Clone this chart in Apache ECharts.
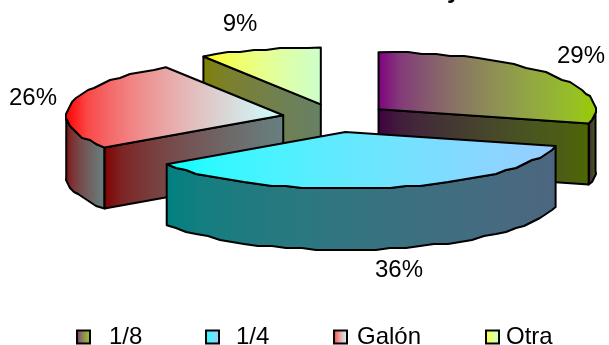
<!DOCTYPE html>
<html>
<head>
<meta charset="utf-8">
<style>
  html, body { margin: 0; padding: 0; background: #fff; }
  #chart { width: 609px; height: 345px; }
</style>
<script src="https://cdn.jsdelivr.net/npm/echarts@6/dist/echarts.min.js"></script>
</head>
<body>
<div id="chart"></div>
<script>
var categories = ['1/8', '1/4', 'Galón', 'Otra'];
var shares = [29, 36.4, 25.5, 9.1];
var topStart = ['#800080', '#00ffff', '#ff0000', '#ffff00'];
var topEnd = ['#99cc00', '#99ccff', '#ccffff', '#ccffcc'];
var wallStart = ['#400040', '#008080', '#800000', '#808000'];
var wallEnd = ['#4d6600', '#4d6680', '#668080', '#668066'];
var labelPos = [[581, 56], [399, 270], [33, 98], [240, 24]];
var legendLeft = [76, 205, 333, 485];
var legendPad = [14, 12, 5, 2];

var font = 'Liberation Sans, Arial, sans-serif';
var cx = 336, cy = 118, rx = 217, ry = 57, depth = 61, explode = 0.248;
var gamma = 1.8;
var RAD = Math.PI / 180;

function channels(hex) {
  return [1, 3, 5].map(function (p) { return parseInt(hex.substr(p, 2), 16) / 255; });
}

// the reference blends closer to linear light, plain two-stop gradients come out too dark in the middle
function grad(a, b) {
  var ca = channels(a), cb = channels(b), stops = [];
  for (var k = 0; k <= 10; k++) {
    var t = k / 10;
    var rgb = ca.map(function (v, j) {
      var mix = Math.pow(v, gamma) * (1 - t) + Math.pow(cb[j], gamma) * t;
      return Math.round(Math.pow(mix, 1 / gamma) * 255);
    });
    stops.push({ offset: t, color: 'rgb(' + rgb.join(',') + ')' });
  }
  return { type: 'linear', x: 0, y: 0, x2: 1, y2: 0, colorStops: stops };
}

// slice angles, clockwise from north
var total = shares.reduce(function (x, y) { return x + y; }, 0);
var run = 0;
var angles = shares.map(function (v) {
  var a = run / total * 360;
  run += v;
  return [a, run / total * 360];
});

function apexOf(i) {
  var mid = (angles[i][0] + angles[i][1]) / 2 * RAD;
  return [cx + explode * rx * Math.sin(mid), cy - explode * ry * Math.cos(mid)];
}

function rimPoint(apex, deg, dz) {
  return [apex[0] + rx * Math.sin(deg * RAD), apex[1] - ry * Math.cos(deg * RAD) + dz];
}

// the original rim is a coarse polyline, so snap the inner points to a rough grid
function arcPoints(apex, a, b, dz) {
  var pts = [];
  var n = Math.max(2, Math.ceil(Math.abs(b - a) / 4));
  for (var k = 0; k <= n; k++) {
    var p = rimPoint(apex, a + (b - a) * k / n, dz);
    if (k > 0 && k < n) {
      p = [Math.round(p[0] / 2) * 2, Math.round(p[1] / 2) * 2];
    }
    pts.push(p);
  }
  return pts;
}

function face(points, fill) {
  return {
    type: 'polygon',
    shape: { points: points },
    style: { fill: fill, stroke: '#000', lineWidth: 2, lineJoin: 'round' }
  };
}

function renderSlice(i) {
  return function () {
    var apex = apexOf(i);
    var a = angles[i][0], b = angles[i][1];
    var wall = grad(wallStart[i], wallEnd[i]);
    var kids = [];

    // outer wall, front half only (90..270)
    var from = Math.max(a, 90), to = Math.min(b, 270);
    if (from < to) {
      var top = arcPoints(apex, from, to, 0);
      var bottom = arcPoints(apex, from, to, depth).reverse();
      kids.push(face(top.concat(bottom), wall));
    }

    // cut faces that look at the viewer
    [[a, Math.sin(a * RAD) < -0.01], [b, Math.sin(b * RAD) > 0.01]].forEach(function (c) {
      if (!c[1]) return;
      var p = rimPoint(apex, c[0], 0);
      kids.push(face([apex, p, [p[0], p[1] + depth], [apex[0], apex[1] + depth]], wall));
    });

    // top surface
    kids.push(face([apex].concat(arcPoints(apex, a, b, 0)), grad(topStart[i], topEnd[i])));
    return { type: 'group', children: kids };
  };
}

// back slices first, so the front ones cover them
var series = categories.map(function (name, i) {
  return {
    name: name,
    type: 'custom',
    coordinateSystem: 'none',
    z: apexOf(i)[1],
    silent: true,
    renderItem: renderSlice(i),
    data: [shares[i]]
  };
});

var chart = echarts.init(document.getElementById('chart'));
chart.setOption({
  animation: false,
  backgroundColor: '#fff',
  title: {
    text: 'y',
    left: 447,
    top: -21,
    padding: 0,
    textStyle: { fontFamily: font, fontSize: 24, fontWeight: 'bold', color: '#000' }
  },
  legend: categories.map(function (name, i) {
    return {
      data: [{ name: name, icon: 'rect', itemStyle: { color: grad(topStart[i], topEnd[i]), borderColor: '#000', borderWidth: 2 } }],
      left: legendLeft[i],
      top: 325,
      padding: 0,
      itemWidth: 13,
      itemHeight: 13,
      selectedMode: false,
      textStyle: { fontFamily: font, fontSize: 24, color: '#000', padding: [0, 0, 6, legendPad[i]] }
    };
  }),
  graphic: shares.map(function (v, i) {
    return {
      type: 'text',
      x: labelPos[i][0],
      y: labelPos[i][1],
      z: 200,
      style: { text: Math.round(v) + '%', fontFamily: font, fontSize: 24, fill: '#000', align: 'center', verticalAlign: 'middle' }
    };
  }),
  series: series
});
</script>
</body>
</html>
